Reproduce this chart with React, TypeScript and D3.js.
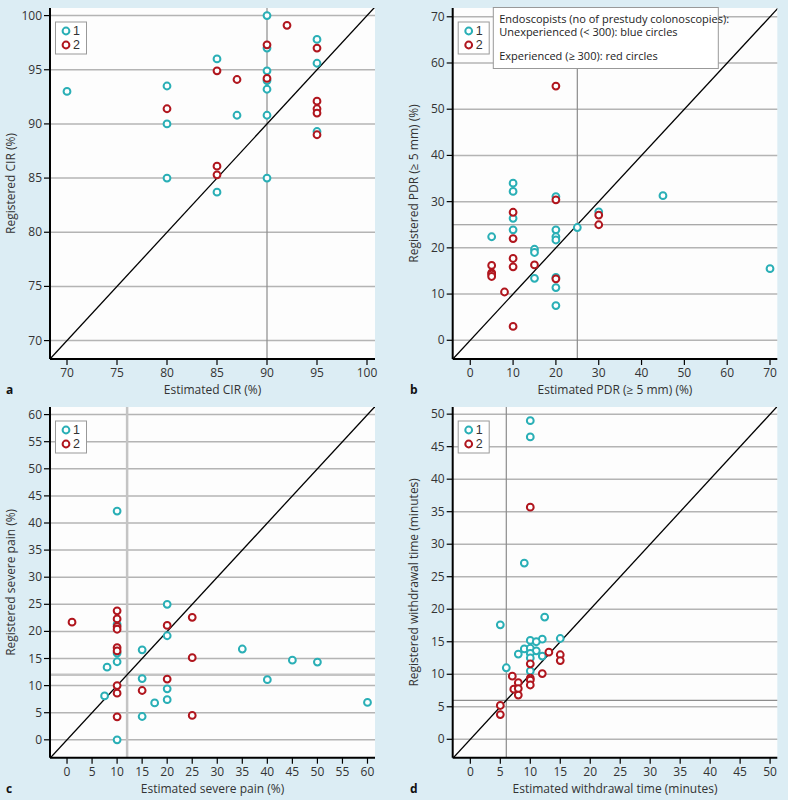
import React from "react";
import * as d3 from "d3";

// ---------- Data ----------
// Panel a: CIR (%)
const aTeal: [number, number][] = [
  [70, 93], [80, 93.5], [80, 90], [80, 85], [85, 96], [85, 83.7], [87, 90.8],
  [90, 100], [90, 97], [90, 94.9], [90, 94], [90, 93.2], [90, 90.8], [90, 85],
  [95, 97.8], [95, 95.6], [95, 89.3],
];
const aRed: [number, number][] = [
  [80, 91.4], [85, 94.9], [85, 86.1], [85, 85.3], [87, 94.1], [90, 97.3], [90, 94.2],
  [92, 99.1], [95, 97], [95, 92.1], [95, 91.4], [95, 91], [95, 89],
];
// Panel b: PDR (>= 5 mm) (%)
const bTeal: [number, number][] = [
  [10, 34], [10, 32.2], [20, 31.1], [45, 31.3], [30, 27.8], [10, 26.4], [25, 24.4],
  [10, 23.9], [20, 23.9], [20, 22.4], [20, 21.7], [5, 22.4], [15, 19.7], [15, 19],
  [15, 13.4], [20, 13.6], [20, 11.4], [20, 7.5], [70, 15.5],
];
const bRed: [number, number][] = [
  [20, 55], [20, 30.4], [10, 27.7], [30, 27.1], [30, 25], [10, 22], [10, 17.7],
  [10, 15.9], [15, 16.3], [5, 16.2], [5, 14.6], [5, 14.3], [5, 13.8], [20, 13.3],
  [8, 10.45], [10, 3],
];
// Panel c: severe pain (%)
const cTeal: [number, number][] = [
  [10, 42.2], [20, 25], [10, 21.3], [20, 19.2], [10, 16], [10, 14.4], [15, 16.6],
  [35, 16.75], [45, 14.7], [50, 14.35], [8, 13.4], [15, 11.3], [40, 11.1], [20, 9.4],
  [7.5, 8.1], [20, 7.4], [17.5, 6.8], [60, 6.9], [15, 4.3], [10, 0],
];
const cRed: [number, number][] = [
  [10, 23.8], [1, 21.7], [10, 22.3], [25, 22.6], [20, 21.1], [10, 20.9], [10, 20.4],
  [10, 17], [10, 16.4], [25, 15.15], [20, 11.2], [10, 10], [15, 9.1], [10, 8.6],
  [10, 4.25], [25, 4.5],
];
// Panel d: withdrawal time (minutes)
const dTeal: [number, number][] = [
  [10, 49], [10, 46.5], [9, 27.1], [12.4, 18.8], [5, 17.6], [15, 15.5], [12, 15.4],
  [10, 15.2], [11, 15], [9, 13.9], [10, 14], [11, 13.6], [8, 13.1], [10, 13.2],
  [12, 12.8], [10, 12.5], [6, 11], [10, 10.5],
];
const dRed: [number, number][] = [
  [10, 35.7], [10, 11.6], [13.1, 13.4], [15, 13], [15, 12.1], [12, 10.1], [7, 9.7],
  [10, 9.4], [10, 9.1], [10, 8.35], [8, 8.7], [7.25, 7.7], [8, 7.8], [8, 6.8],
  [5, 5.2], [5, 3.8],
];

const aTicks = [70, 75, 80, 85, 90, 95, 100];
const bTicks = [0, 10, 20, 30, 40, 50, 60, 70];
const cTicks = [0, 5, 10, 15, 20, 25, 30, 35, 40, 45, 50, 55, 60];
const dTicks = [0, 5, 10, 15, 20, 25, 30, 35, 40, 45, 50];

const legendLabels = ["1", "2"];
const infoLines = [
  "Endoscopists (no of prestudy colonoscopies):",
  "Unexperienced (< 300): blue circles",
  "Experienced (\u2265 300): red circles",
];

const TEAL = "#2aafb6";
const RED = "#b0161e";
const BG = "#dcedf4";
const FONT = "'Open Sans', 'Noto Sans', sans-serif";
const TXT = "#333";

interface PanelProps {
  id: string;
  left: number;
  top: number;
  w: number;
  h: number;
  xDom: [number, number];
  yDom: [number, number];
  ticks: number[];
  teal: [number, number][];
  red: [number, number][];
  refX?: number;
  refY?: number;
  refStyle: { stroke: string; width: number };
  xTitle: string;
  yTitle: string;
  label: string;
  labelX: number;
  info?: boolean;
}

function Panel(p: PanelProps) {
  const x = d3.scaleLinear().domain(p.xDom).range([p.left, p.left + p.w]);
  const y = d3.scaleLinear().domain(p.yDom).range([p.top + p.h, p.top]);
  const lo = Math.min(p.xDom[0], p.yDom[0]);
  const hi = Math.max(p.xDom[1], p.yDom[1]);
  const diag = d3.line<number>().x((v) => x(v)).y((v) => y(v))([lo, hi]) || "";
  const bottom = p.top + p.h;
  const clipId = "clip-" + p.id;
  return (
    <g>
      <defs>
        <clipPath id={clipId}>
          <rect x={p.left} y={p.top} width={p.w} height={p.h} />
        </clipPath>
      </defs>
      <rect x={p.left} y={p.top} width={p.w} height={p.h} fill="#fdfdfd" />
      {p.ticks.map((t) => (
        <line key={"g" + t} x1={p.left} x2={p.left + p.w} y1={y(t)} y2={y(t)} stroke="#b4b4b4" strokeWidth={1.5} />
      ))}
      {p.refX !== undefined && (
        <line x1={x(p.refX)} x2={x(p.refX)} y1={p.top} y2={bottom} stroke={p.refStyle.stroke} strokeWidth={p.refStyle.width} />
      )}
      {p.refY !== undefined && (
        <line x1={p.left} x2={p.left + p.w} y1={y(p.refY)} y2={y(p.refY)} stroke={p.refStyle.stroke} strokeWidth={p.refStyle.width} />
      )}
      <path d={diag} stroke="#000" strokeWidth={1.3} fill="none" clipPath={`url(#${clipId})`} />
      <g clipPath={`url(#${clipId})`}>
        {p.teal.map((d, i) => (
          <circle key={"t" + i} cx={x(d[0])} cy={y(d[1])} r={3.4} fill="#fff" stroke={TEAL} strokeWidth={2} />
        ))}
        {p.red.map((d, i) => (
          <circle key={"r" + i} cx={x(d[0])} cy={y(d[1])} r={3.4} fill="#fff" stroke={RED} strokeWidth={2} />
        ))}
      </g>
      <line x1={p.left} x2={p.left} y1={p.top} y2={bottom} stroke="#000" strokeWidth={2} />
      <line x1={p.left} x2={p.left + p.w} y1={bottom} y2={bottom} stroke="#000" strokeWidth={2} />
      {p.ticks.map((t) => (
        <g key={"xt" + t}>
          <line x1={x(t)} x2={x(t)} y1={bottom} y2={bottom + 6} stroke="#000" strokeWidth={1.2} />
          <text x={x(t)} y={bottom + 18} textAnchor="middle" fontSize={12} fill={TXT} fontFamily={FONT}>
            {t}
          </text>
        </g>
      ))}
      {p.ticks.map((t) => (
        <g key={"yt" + t}>
          <line x1={p.left - 6} x2={p.left} y1={y(t)} y2={y(t)} stroke="#000" strokeWidth={1.2} />
          <text x={p.left - 8} y={y(t) + 4} textAnchor="end" fontSize={12} fill={TXT} fontFamily={FONT}>
            {t}
          </text>
        </g>
      ))}
      <text x={p.left + p.w / 2} y={bottom + 35} textAnchor="middle" fontSize={12} fill={TXT} fontFamily={FONT}>
        {p.xTitle}
      </text>
      <text
        transform={`translate(${p.left - 35},${p.top + p.h / 2}) rotate(-90)`}
        textAnchor="middle"
        fontSize={12}
        fill={TXT}
        fontFamily={FONT}
      >
        {p.yTitle}
      </text>
      <text x={p.labelX} y={bottom + 35} fontSize={12} fontWeight="bold" fill="#111" fontFamily={FONT}>
        {p.label}
      </text>
      <rect x={p.left + 5.5} y={p.top + 14} width={31} height={32} fill="#fff" stroke="#999" strokeWidth={1} />
      {legendLabels.map((l, i) => (
        <g key={"lg" + l}>
          <circle cx={p.left + 16} cy={p.top + 23 + i * 14} r={3.4} fill="#fff" stroke={i === 0 ? TEAL : RED} strokeWidth={2} />
          <text x={p.left + 23} y={p.top + 27.3 + i * 14} fontSize={12.5} fill={TXT} fontFamily="'Liberation Sans', sans-serif">
            {l}
          </text>
        </g>
      ))}
      {p.info && (
        <g>
          <rect x={p.left + 40.6} y={p.top - 0.5} width={225} height={61} fill="#fff" stroke="#999" strokeWidth={1} />
          {infoLines.map((l, i) => (
            <text
              key={"in" + i}
              x={p.left + 46.5}
              y={p.top + 14.5 + (i === 2 ? 37 : i * 13.5)}
              fontSize={11}
              fill="#222"
              fontFamily={FONT}
            >
              {l}
            </text>
          ))}
        </g>
      )}
    </g>
  );
}

export default function App() {
  return (
    <svg
      width={788}
      height={800}
      style={{ position: "absolute", left: 0, top: 0, display: "block" }}
      xmlns="http://www.w3.org/2000/svg"
    >
      <rect x={0} y={0} width={788} height={800} fill={BG} />
      <Panel
        id="a" left={50} top={8} w={325} h={351}
        xDom={[68.3, 100.8]} yDom={[68.3, 100.7]} ticks={aTicks}
        teal={aTeal} red={aRed} refX={90}
        refStyle={{ stroke: "#8c8c8c", width: 1.2 }}
        xTitle="Estimated CIR (%)" yTitle="Registered CIR (%)" label="a" labelX={6}
      />
      <Panel
        id="b" left={452.7} top={8} w={324.6} h={351}
        xDom={[-4.1, 71.7]} yDom={[-4.05, 71.9]} ticks={bTicks}
        teal={bTeal} red={bRed} refX={25} refY={25}
        refStyle={{ stroke: "#8c8c8c", width: 1.2 }}
        xTitle={"Estimated PDR (\u2265 5 mm) (%)"} yTitle={"Registered PDR (\u2265 5 mm) (%)"} label="b" labelX={410} info
      />
      <Panel
        id="c" left={50} top={407} w={325} h={350.7}
        xDom={[-3.4, 61.5]} yDom={[-3.3, 61.4]} ticks={cTicks}
        teal={cTeal} red={cRed} refX={12} refY={12}
        refStyle={{ stroke: "#c4c4c4", width: 2.5 }}
        xTitle="Estimated severe pain (%)" yTitle="Registered severe pain (%)" label="c" labelX={6}
      />
      <Panel
        id="d" left={452.7} top={407} w={324.6} h={350.7}
        xDom={[-2.94, 51.2]} yDom={[-2.83, 51.1]} ticks={dTicks}
        teal={dTeal} red={dRed} refX={6} refY={6}
        refStyle={{ stroke: "#8c8c8c", width: 1.2 }}
        xTitle="Estimated withdrawal time (minutes)" yTitle="Registered withdrawal time (minutes)" label="d" labelX={410}
      />
    </svg>
  );
}
